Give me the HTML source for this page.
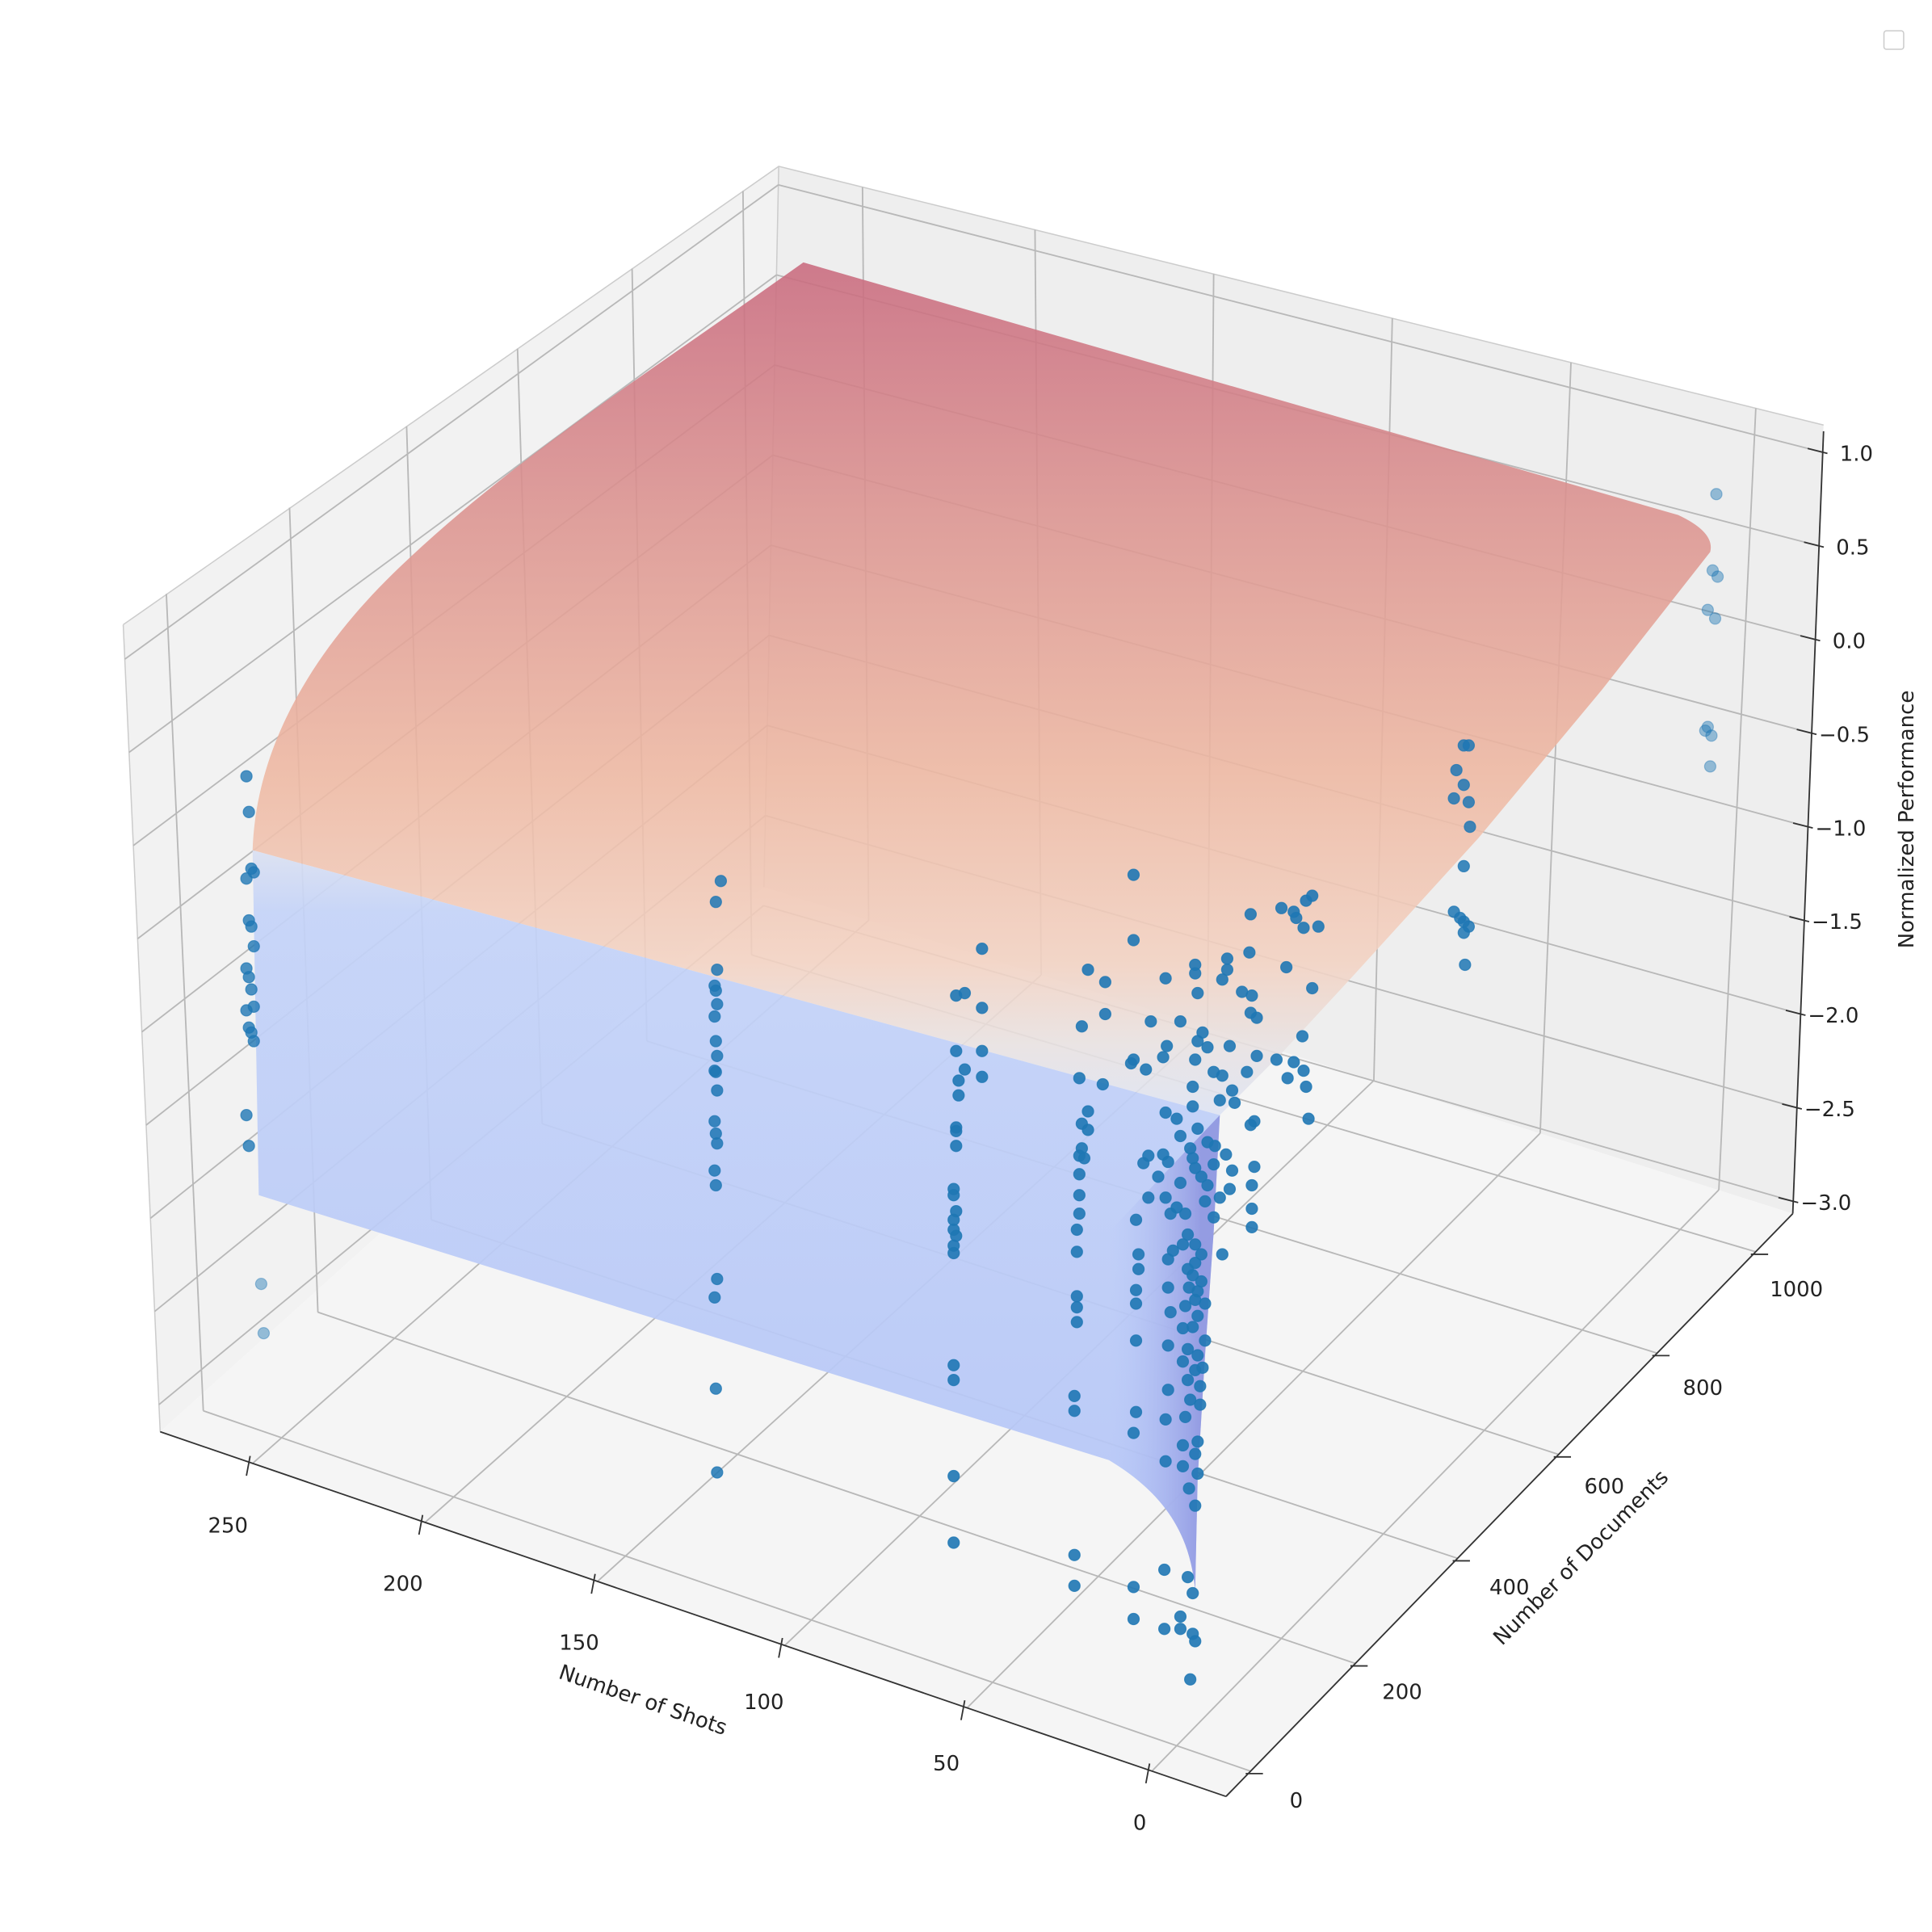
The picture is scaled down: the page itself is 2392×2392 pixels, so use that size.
<!DOCTYPE html>
<html><head><meta charset="utf-8"><style>
html,body{margin:0;padding:0;background:#fff;}
svg{display:block;}
text{font-family:"DejaVu Sans","Liberation Sans",sans-serif;font-size:17px;fill:#222;}
</style></head><body>
<svg id="s" width="2392" height="2392" viewBox="0 0 1568 1568" xmlns="http://www.w3.org/2000/svg">
<defs>
<linearGradient id="top" x1="0" y1="213" x2="0" y2="905" gradientUnits="userSpaceOnUse">
<stop offset="0" stop-color="#c96a7e"/>
<stop offset="0.3" stop-color="#dc9490"/>
<stop offset="0.6" stop-color="#eeb8a2"/>
<stop offset="0.82" stop-color="#f3d2c2"/>
<stop offset="0.92" stop-color="#e8e2e2"/>
<stop offset="1" stop-color="#dde3f3"/>
</linearGradient>
<linearGradient id="front" x1="0" y1="680" x2="0" y2="1290" gradientUnits="userSpaceOnUse">
<stop offset="0" stop-color="#dfe3f0"/>
<stop offset="0.1" stop-color="#c4d3f8"/>
<stop offset="1" stop-color="#b3c4f7"/>
</linearGradient>
<linearGradient id="fr" x1="900" y1="0" x2="975" y2="0" gradientUnits="userSpaceOnUse">
<stop offset="0" stop-color="#b3c4f7" stop-opacity="0"/>
<stop offset="1" stop-color="#8f96e0" stop-opacity="0.9"/>
</linearGradient>
</defs>
<polygon points="100,507 632,135 620,720 130,1162" fill="#f2f2f2"/>
<polygon points="632,135 1480,345 1455,985 620,720" fill="#eeeeee"/>
<polygon points="130,1162 620,720 1455,985 995,1458" fill="#f5f5f5"/>
<g stroke="#cccccc" stroke-width="1" fill="none">
<polyline points="100,507 632,135 1480,345"/>
<line x1="632" y1="135" x2="620" y2="720"/>
<line x1="100" y1="507" x2="130" y2="1162"/>
</g>
<g id="grid" stroke="#b8b8b8" stroke-width="1.2" fill="none"></g>
<path d="M652,213 L1362,418 Q1392,432 1388,448 L1300,560 L1200,680 L1100,790 L1040,855 L990,905 L205,690 C208,600 260,520 330,455 C420,370 530,300 652,213 Z" fill="url(#top)" opacity="0.88"/>
<path d="M205,690 L990,905 L985,1000 L978,1100 L972,1200 L970,1290 C966,1250 950,1215 900,1185 L210,970 Z" fill="url(#front)" opacity="0.92"/>
<path d="M900,1000 L990,905 L985,1000 L978,1100 L972,1200 L970,1290 C966,1250 950,1215 900,1185 Z" fill="url(#fr)"/>
<g stroke="#333" stroke-width="1.2">
<line x1="130" y1="1162" x2="995" y2="1458"/>
<line x1="995" y1="1458" x2="1455" y2="985"/>
<line x1="1480" y1="350" x2="1455" y2="985"/>
</g>
<g id="ticks" stroke="#333" stroke-width="1.2"></g>
<g id="pts"></g>
<g text-anchor="middle">
<text x="185" y="1244">250</text><text x="327" y="1291">200</text><text x="470" y="1339">150</text>
<text x="620" y="1387">100</text><text x="768" y="1437">50</text><text x="925" y="1485">0</text>
<text x="1052" y="1467">0</text><text x="1138" y="1379">200</text><text x="1225" y="1294">400</text>
<text x="1302" y="1212">600</text><text x="1382" y="1132">800</text><text x="1458" y="1052">1000</text>
</g>
<g id="zl"></g>
<text x="520" y="1385" text-anchor="middle" transform="rotate(19 520 1385)">Number of Shots</text>
<text x="1287" y="1268" text-anchor="middle" transform="rotate(-45 1287 1268)">Number of Documents</text>
<text x="1553" y="665" text-anchor="middle" transform="rotate(-90 1553 665)">Normalized Performance</text>
<rect x="1529" y="25" width="16" height="15" rx="2" fill="#fff" stroke="#ccc"/>
</svg>
<script>
var NS="http://www.w3.org/2000/svg";
function el(p,t,a){var e=document.createElementNS(NS,t);for(var k in a)e.setAttribute(k,a[k]);p.appendChild(e);return e;}
var g=document.getElementById('grid');
function L(a,b,c,d){el(g,'line',{x1:a,y1:b,x2:c,y2:d});}
for(var i=0;i<9;i++){var f=i/8;
 var ly=535+f*(1140-535), lx=100+(ly-507)/(1162-507)*30;
 var by=150+f*(735-150), bx=632-(by-135)/(720-135)*12;
 var ry=367+f*(975-367), rx=1480-(ry-345)/(985-345)*25;
 L(lx,ly,bx,by);L(bx,by,rx,ry);}
var lt=[[135,482],[235,412],[330,346],[420,283],[513,218],[603,155]];
var lb=[[165,1145],[258,1065],[350,990],[440,912],[525,845],[610,775]];
var dx=[1015,1100,1183,1265,1345,1425];
for(var i=0;i<6;i++){L(lt[i][0],lt[i][1],lb[i][0],lb[i][1]);var y=1458-(dx[i]-995)*1.028;L(lb[i][0],lb[i][1],dx[i],y);}
var rtx=[700,840,985,1130,1275,1425],rbx=[705,845,980,1115,1250,1395];
var sx=[205,345,485,637,785,935];
for(var i=0;i<6;i++){var ty=135+(rtx[i]-632)*0.2476,by2=720+(rbx[i]-620)*0.317;L(rtx[i],ty,rbx[i],by2);var sy=1162+(sx[i]-130)*0.342;L(sx[i],sy,rbx[i],by2);}
var tk=document.getElementById('ticks');
for(var i=0;i<6;i++){var sy=1162+(sx[i]-130)*0.342;el(tk,'line',{x1:sx[i]-2,y1:sy-6,x2:sx[i]-5,y2:sy+10});
 var y=1458-(dx[i]-995)*1.028;el(tk,'line',{x1:dx[i]-4,y1:y+2,x2:dx[i]+10,y2:y+2});}
var zl=document.getElementById('zl');
var zt=["1.0","0.5","0.0","\u22120.5","\u22121.0","\u22121.5","\u22122.0","\u22122.5","\u22123.0"];
for(var i=0;i<9;i++){var ry=367+i/8*(975-367),rx=1480-(ry-345)/(985-345)*25;
 el(tk,'line',{x1:rx-12,y1:ry-3,x2:rx+4,y2:ry+1});
 var t=el(zl,'text',{x:rx+8+(i>=3?-2:6),y:ry+7});t.textContent=zt[i];}
var P=document.getElementById('pts');
function dot(x,y,a){el(P,'circle',{cx:x,cy:y,r:4.6,fill:'#1f77b4','fill-opacity':a,stroke:'#1f77b4','stroke-opacity':a*0.9,'stroke-width':0.8});}
var c1=[630,659,705,708,713,747,752,768,786,793,803,817,820,834,838,845,905,930];
c1.forEach(function(y,i){dot(200+(i%4)*2,y,0.8);});
dot(212,1042,0.45);dot(214,1082,0.45);
[715,732,787,800,804,815,825,845,857,869,870,885,910,920,928,950,962,1038,1053,1127,1195].forEach(function(y,i){dot(i==0?585:580+(i%3),y,0.85);});
[[797,770],[776,808],[783,806],[797,818],[776,853],[797,853],[783,868],[778,877],[797,874],[778,889],[776,915],[776,918],[776,930],[774,965],[774,970],[776,983],[774,990],[774,998],[776,1003],[774,1011],[774,1017],[774,1108],[774,1120],[774,1198],[774,1252]].forEach(function(p){dot(p[0],p[1],0.9);});
[[883,787],[897,797],[878,833],[897,823],[876,875],[895,880],[883,902],[878,912],[883,917],[878,932],[876,938],[880,940],[876,953],[876,970],[876,985],[874,998],[874,1016],[874,1052],[874,1061],[874,1073],[872,1133],[872,1145],[872,1262],[872,1287]].forEach(function(p){dot(p[0],p[1],0.9);});
[[1188,605],[1192,605],[1182,625],[1188,637],[1192,651],[1180,648],[1193,671],[1188,703],[1180,740],[1185,745],[1188,748],[1192,752],[1188,757],[1189,783]].forEach(function(p){dot(p[0],p[1],0.85);});
[[1393,401],[1390,463],[1394,468],[1386,495],[1392,502],[1386,590],[1384,593],[1389,597],[1388,622]].forEach(function(p){dot(p[0],p[1],0.45);});
var D=[[920,710],[920,763],[946,794],[970,783],[970,790],[972,806],[996,778],[996,787],[992,795],[1014,773],[1008,805],[1016,808],[1015,822],[1020,826],[934,829],[958,829],[976,838],[972,845],[980,850],[998,849],[947,849],[920,860],[918,863],[930,868],[944,858],[970,860],[985,870],[968,882],[992,873],[1000,885],[1012,870],[1020,857],[1036,860],[1050,862],[1058,869],[1060,882],[1045,875],[1062,908],[1018,910],[1015,913],[1044,785],[1052,745],[1050,740],[1060,731],[1065,727],[1070,752],[1058,753],[1040,737],[1015,742],[1057,841],[1065,802],[946,903],[955,908],[968,898],[990,893],[1002,895],[972,916],[980,927],[958,922],[944,937],[948,943],[932,938],[928,944],[966,932],[986,930],[995,937],[968,940],[970,948],[1000,950],[975,955],[980,962],[958,960],[946,972],[932,972],[922,990],[950,985],[962,985],[978,975],[990,972],[1018,947],[1016,962],[1016,981],[1016,996],[998,965],[985,988],[964,1002],[970,1010],[960,1010],[975,1018],[952,1015],[924,1018],[924,1030],[948,1022],[970,1025],[992,1018],[975,1040],[965,1045],[948,1045],[922,1047],[922,1058],[970,1055],[978,1058],[962,1060],[972,1068],[968,1077],[960,1078],[922,1088],[948,1092],[964,1095],[972,1100],[960,1105],[970,1112],[964,1120],[974,1125],[948,1128],[966,1136],[974,1140],[922,1146],[946,1152],[920,1163],[960,1173],[972,1170],[946,1186],[970,1180],[960,1190],[972,1196],[965,1208],[970,1222],[945,1274],[964,1280],[920,1288],[968,1293],[920,1314],[958,1312],[945,1322],[958,1322],[968,1326],[970,1332],[966,1363],[964,1030],[968,1035],[972,1048],[976,1110],[962,1150],[950,1065],[978,1088],[955,980],[985,945],[940,955]];
D.forEach(function(p){dot(p[0],p[1],0.9);});
</script>
</body></html>
